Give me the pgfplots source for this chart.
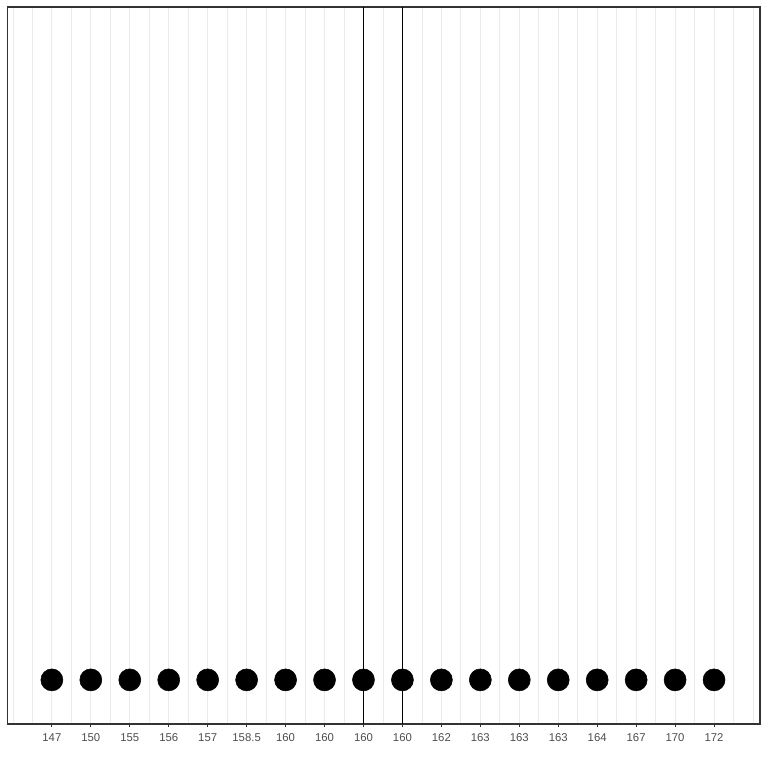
\documentclass[border=0pt]{standalone}
\usepackage{pgfplots}
\pgfplotsset{compat=1.18}
\usepackage{fontspec}
\setmainfont{Liberation Sans}
\definecolor{gridgray}{HTML}{EBEBEB}
\definecolor{framegray}{HTML}{333333}
\definecolor{labelgray}{HTML}{4D4D4D}

\pgfplotstableread{
pos y
1 0.0615
2 0.0615
3 0.0615
4 0.0615
5 0.0615
6 0.0615
7 0.0615
8 0.0615
9 0.0615
10 0.0615
11 0.0615
12 0.0615
13 0.0615
14 0.0615
15 0.0615
16 0.0615
17 0.0615
18 0.0615
}\heights

\begin{document}
\begin{tikzpicture}
\begin{axis}[
  width=564.4pt, height=537.75pt,
  scale only axis,
  xmin=-0.14, xmax=19.18,
  ymin=0, ymax=1,
  xtick={1,...,18},
  xticklabels={147,150,155,156,157,158.5,160,160,160,160,162,163,163,163,164,167,170,172},
  minor xtick={0,0.5,...,19},
  ytick=\empty,
  xminorgrids,
  minor grid style={gridgray, line width=0.6pt},
  minor tick length=0pt,
  major tick length=2.5pt,
  tick align=outside,
  xtick pos=bottom,
  major tick style={framegray, line width=0.6pt},
  axis line style={framegray, line width=0.8pt},
  tick label style={font=\fontsize{8.5}{10}\selectfont, text=labelgray},
  xticklabel style={yshift=-1pt},
  clip=false,
]
\addplot[black, line width=0.6pt] coordinates {(9,0) (9,1)};
\addplot[black, line width=0.6pt] coordinates {(10,0) (10,1)};
\addplot[only marks, mark=*, mark size=8.25pt, black] table[x=pos, y=y] {\heights};
\end{axis}
\path (current axis.south west) ++(-5.6pt,-33pt) (current axis.north east) ++(6pt,5.25pt);
\end{tikzpicture}
\end{document}
